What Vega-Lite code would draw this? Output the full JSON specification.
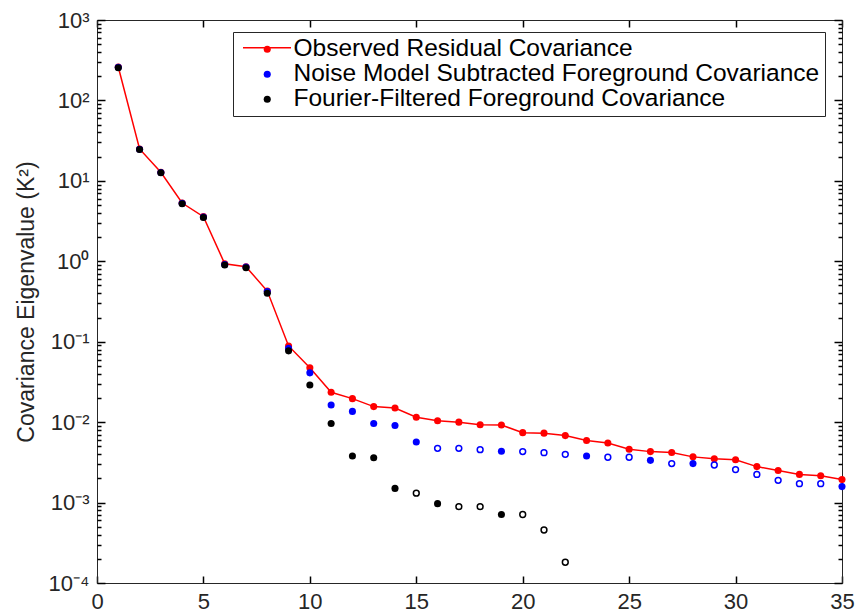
{
  "$schema": "https://vega.github.io/schema/vega-lite/v6.json",
  "width": 745,
  "height": 563,
  "autosize": {"type": "none"},
  "padding": {"left": 97, "top": 20, "right": 16, "bottom": 33},
  "background": "white",
  "config": {
    "font": "Liberation Sans",
    "view": {"stroke": "#262626", "strokeWidth": 1},
    "axis": {
      "domain": true,
      "domainColor": "#262626",
      "domainWidth": 1,
      "ticks": true,
      "tickColor": "#000000",
      "tickWidth": 1.5,
      "labelColor": "#262626",
      "titleColor": "#262626",
      "labelFontSize": 22,
      "titleFontSize": 23,
      "titleFontWeight": "normal",
      "grid": false,
      "labelFlush": false,
      "labelOverlap": false
    }
  },
  "data": {
    "values": [
      {"x": 1, "series": "Observed Residual Covariance", "value": 260, "sign": "pos"},
      {"x": 2, "series": "Observed Residual Covariance", "value": 24.9, "sign": "pos"},
      {"x": 3, "series": "Observed Residual Covariance", "value": 12.8, "sign": "pos"},
      {"x": 4, "series": "Observed Residual Covariance", "value": 5.3, "sign": "pos"},
      {"x": 5, "series": "Observed Residual Covariance", "value": 3.59, "sign": "pos"},
      {"x": 6, "series": "Observed Residual Covariance", "value": 0.933, "sign": "pos"},
      {"x": 7, "series": "Observed Residual Covariance", "value": 0.857, "sign": "pos"},
      {"x": 8, "series": "Observed Residual Covariance", "value": 0.426, "sign": "pos"},
      {"x": 9, "series": "Observed Residual Covariance", "value": 0.0886, "sign": "pos"},
      {"x": 10, "series": "Observed Residual Covariance", "value": 0.0475, "sign": "pos"},
      {"x": 11, "series": "Observed Residual Covariance", "value": 0.0235, "sign": "pos"},
      {"x": 12, "series": "Observed Residual Covariance", "value": 0.0196, "sign": "pos"},
      {"x": 13, "series": "Observed Residual Covariance", "value": 0.0156, "sign": "pos"},
      {"x": 14, "series": "Observed Residual Covariance", "value": 0.0150, "sign": "pos"},
      {"x": 15, "series": "Observed Residual Covariance", "value": 0.0115, "sign": "pos"},
      {"x": 16, "series": "Observed Residual Covariance", "value": 0.0104, "sign": "pos"},
      {"x": 17, "series": "Observed Residual Covariance", "value": 0.0100, "sign": "pos"},
      {"x": 18, "series": "Observed Residual Covariance", "value": 0.0093, "sign": "pos"},
      {"x": 19, "series": "Observed Residual Covariance", "value": 0.0092, "sign": "pos"},
      {"x": 20, "series": "Observed Residual Covariance", "value": 0.0074, "sign": "pos"},
      {"x": 21, "series": "Observed Residual Covariance", "value": 0.0073, "sign": "pos"},
      {"x": 22, "series": "Observed Residual Covariance", "value": 0.0068, "sign": "pos"},
      {"x": 23, "series": "Observed Residual Covariance", "value": 0.0059, "sign": "pos"},
      {"x": 24, "series": "Observed Residual Covariance", "value": 0.0055, "sign": "pos"},
      {"x": 25, "series": "Observed Residual Covariance", "value": 0.0046, "sign": "pos"},
      {"x": 26, "series": "Observed Residual Covariance", "value": 0.0043, "sign": "pos"},
      {"x": 27, "series": "Observed Residual Covariance", "value": 0.0042, "sign": "pos"},
      {"x": 28, "series": "Observed Residual Covariance", "value": 0.0037, "sign": "pos"},
      {"x": 29, "series": "Observed Residual Covariance", "value": 0.0035, "sign": "pos"},
      {"x": 30, "series": "Observed Residual Covariance", "value": 0.0034, "sign": "pos"},
      {"x": 31, "series": "Observed Residual Covariance", "value": 0.0028, "sign": "pos"},
      {"x": 32, "series": "Observed Residual Covariance", "value": 0.0025, "sign": "pos"},
      {"x": 33, "series": "Observed Residual Covariance", "value": 0.00224, "sign": "pos"},
      {"x": 34, "series": "Observed Residual Covariance", "value": 0.00216, "sign": "pos"},
      {"x": 35, "series": "Observed Residual Covariance", "value": 0.00193, "sign": "pos"},
      {"x": 1, "series": "Noise Model Subtracted Foreground Covariance", "value": 258, "sign": "pos"},
      {"x": 2, "series": "Noise Model Subtracted Foreground Covariance", "value": 24.7, "sign": "pos"},
      {"x": 3, "series": "Noise Model Subtracted Foreground Covariance", "value": 12.7, "sign": "pos"},
      {"x": 4, "series": "Noise Model Subtracted Foreground Covariance", "value": 5.25, "sign": "pos"},
      {"x": 5, "series": "Noise Model Subtracted Foreground Covariance", "value": 3.55, "sign": "pos"},
      {"x": 6, "series": "Noise Model Subtracted Foreground Covariance", "value": 0.91, "sign": "pos"},
      {"x": 7, "series": "Noise Model Subtracted Foreground Covariance", "value": 0.85, "sign": "pos"},
      {"x": 8, "series": "Noise Model Subtracted Foreground Covariance", "value": 0.42, "sign": "pos"},
      {"x": 9, "series": "Noise Model Subtracted Foreground Covariance", "value": 0.083, "sign": "pos"},
      {"x": 10, "series": "Noise Model Subtracted Foreground Covariance", "value": 0.041, "sign": "pos"},
      {"x": 11, "series": "Noise Model Subtracted Foreground Covariance", "value": 0.0163, "sign": "pos"},
      {"x": 12, "series": "Noise Model Subtracted Foreground Covariance", "value": 0.0136, "sign": "pos"},
      {"x": 13, "series": "Noise Model Subtracted Foreground Covariance", "value": 0.0096, "sign": "pos"},
      {"x": 14, "series": "Noise Model Subtracted Foreground Covariance", "value": 0.0091, "sign": "pos"},
      {"x": 15, "series": "Noise Model Subtracted Foreground Covariance", "value": 0.00566, "sign": "pos"},
      {"x": 16, "series": "Noise Model Subtracted Foreground Covariance", "value": 0.00473, "sign": "neg"},
      {"x": 17, "series": "Noise Model Subtracted Foreground Covariance", "value": 0.00473, "sign": "neg"},
      {"x": 18, "series": "Noise Model Subtracted Foreground Covariance", "value": 0.00455, "sign": "neg"},
      {"x": 19, "series": "Noise Model Subtracted Foreground Covariance", "value": 0.00434, "sign": "pos"},
      {"x": 20, "series": "Noise Model Subtracted Foreground Covariance", "value": 0.0043, "sign": "neg"},
      {"x": 21, "series": "Noise Model Subtracted Foreground Covariance", "value": 0.00417, "sign": "neg"},
      {"x": 22, "series": "Noise Model Subtracted Foreground Covariance", "value": 0.00398, "sign": "neg"},
      {"x": 23, "series": "Noise Model Subtracted Foreground Covariance", "value": 0.00379, "sign": "pos"},
      {"x": 24, "series": "Noise Model Subtracted Foreground Covariance", "value": 0.00366, "sign": "neg"},
      {"x": 25, "series": "Noise Model Subtracted Foreground Covariance", "value": 0.00366, "sign": "neg"},
      {"x": 26, "series": "Noise Model Subtracted Foreground Covariance", "value": 0.00335, "sign": "pos"},
      {"x": 27, "series": "Noise Model Subtracted Foreground Covariance", "value": 0.00305, "sign": "neg"},
      {"x": 28, "series": "Noise Model Subtracted Foreground Covariance", "value": 0.00305, "sign": "pos"},
      {"x": 29, "series": "Noise Model Subtracted Foreground Covariance", "value": 0.00293, "sign": "neg"},
      {"x": 30, "series": "Noise Model Subtracted Foreground Covariance", "value": 0.00257, "sign": "neg"},
      {"x": 31, "series": "Noise Model Subtracted Foreground Covariance", "value": 0.00224, "sign": "neg"},
      {"x": 32, "series": "Noise Model Subtracted Foreground Covariance", "value": 0.00189, "sign": "neg"},
      {"x": 33, "series": "Noise Model Subtracted Foreground Covariance", "value": 0.00172, "sign": "neg"},
      {"x": 34, "series": "Noise Model Subtracted Foreground Covariance", "value": 0.00172, "sign": "neg"},
      {"x": 35, "series": "Noise Model Subtracted Foreground Covariance", "value": 0.00158, "sign": "pos"},
      {"x": 1, "series": "Fourier-Filtered Foreground Covariance", "value": 255, "sign": "pos"},
      {"x": 2, "series": "Fourier-Filtered Foreground Covariance", "value": 24.5, "sign": "pos"},
      {"x": 3, "series": "Fourier-Filtered Foreground Covariance", "value": 12.6, "sign": "pos"},
      {"x": 4, "series": "Fourier-Filtered Foreground Covariance", "value": 5.2, "sign": "pos"},
      {"x": 5, "series": "Fourier-Filtered Foreground Covariance", "value": 3.5, "sign": "pos"},
      {"x": 6, "series": "Fourier-Filtered Foreground Covariance", "value": 0.9, "sign": "pos"},
      {"x": 7, "series": "Fourier-Filtered Foreground Covariance", "value": 0.83, "sign": "pos"},
      {"x": 8, "series": "Fourier-Filtered Foreground Covariance", "value": 0.40, "sign": "pos"},
      {"x": 9, "series": "Fourier-Filtered Foreground Covariance", "value": 0.077, "sign": "pos"},
      {"x": 10, "series": "Fourier-Filtered Foreground Covariance", "value": 0.029, "sign": "pos"},
      {"x": 11, "series": "Fourier-Filtered Foreground Covariance", "value": 0.0096, "sign": "pos"},
      {"x": 12, "series": "Fourier-Filtered Foreground Covariance", "value": 0.0038, "sign": "pos"},
      {"x": 13, "series": "Fourier-Filtered Foreground Covariance", "value": 0.0036, "sign": "pos"},
      {"x": 14, "series": "Fourier-Filtered Foreground Covariance", "value": 0.0015, "sign": "pos"},
      {"x": 15, "series": "Fourier-Filtered Foreground Covariance", "value": 0.00131, "sign": "neg"},
      {"x": 16, "series": "Fourier-Filtered Foreground Covariance", "value": 0.00097, "sign": "pos"},
      {"x": 17, "series": "Fourier-Filtered Foreground Covariance", "value": 0.00089, "sign": "neg"},
      {"x": 18, "series": "Fourier-Filtered Foreground Covariance", "value": 0.00089, "sign": "neg"},
      {"x": 19, "series": "Fourier-Filtered Foreground Covariance", "value": 0.00071, "sign": "pos"},
      {"x": 20, "series": "Fourier-Filtered Foreground Covariance", "value": 0.00071, "sign": "neg"},
      {"x": 21, "series": "Fourier-Filtered Foreground Covariance", "value": 0.000456, "sign": "neg"},
      {"x": 22, "series": "Fourier-Filtered Foreground Covariance", "value": 0.000181, "sign": "neg"}
    ]
  },
  "layer": [
    {
      "transform": [{"filter": "datum.series === 'Observed Residual Covariance'"}],
      "mark": {"type": "line", "strokeWidth": 1.5},
      "encoding": {
        "x": {
          "field": "x", "type": "quantitative",
          "scale": {"domain": [0, 35], "nice": false},
          "axis": {"orient": "bottom", "values": [0, 5, 10, 15, 20, 25, 30, 35], "tickSize": -7, "labelPadding": 15, "title": null}
        },
        "y": {
          "field": "value", "type": "quantitative",
          "scale": {"type": "log", "domain": [0.0001, 1000], "nice": false},
          "axis": {
            "orient": "left",
            "values": [0.0001, 0.001, 0.01, 0.1, 1, 10, 100, 1000],
            "tickSize": -8,
            "labelPadding": 16,
            "labelExpr": "datum.value >= 999 ? '10³' : datum.value >= 99 ? '10²' : datum.value >= 9 ? '10¹' : datum.value >= 0.9 ? '10⁰' : datum.value >= 0.09 ? '10⁻¹' : datum.value >= 0.009 ? '10⁻²' : datum.value >= 0.0009 ? '10⁻³' : '10⁻⁴'",
            "title": "Covariance Eigenvalue (K²)",
            "titlePadding": 10
          }
        },
        "stroke": {
          "field": "series", "type": "nominal",
          "scale": {"domain": ["Observed Residual Covariance"], "range": ["#ff0000"]},
          "legend": {
            "orient": "none", "legendX": 145, "legendY": 2.7, "title": null,
            "labelExpr": "''", "symbolType": "stroke", "symbolSize": 2304,
            "symbolStrokeWidth": 1.5, "padding": 0, "labelOffset": 0
          }
        },
        "order": {"field": "x"}
      }
    },
    {
      "transform": [{"filter": "datum.sign === 'pos'"}],
      "mark": {"type": "point", "filled": true, "size": 50, "opacity": 1},
      "encoding": {
        "x": {
          "field": "x", "type": "quantitative",
          "scale": {"domain": [0, 35], "nice": false},
          "axis": {"orient": "top", "values": [0, 5, 10, 15, 20, 25, 30, 35], "tickSize": -7, "labels": false, "title": null}
        },
        "y": {
          "field": "value", "type": "quantitative",
          "scale": {"type": "log", "domain": [0.0001, 1000], "nice": false},
          "axis": {"orient": "right", "values": [0.0001, 0.001, 0.01, 0.1, 1, 10, 100, 1000], "tickSize": -8, "labels": false, "title": null}
        },
        "color": {
          "field": "series", "type": "nominal",
          "scale": {
            "domain": ["Observed Residual Covariance", "Noise Model Subtracted Foreground Covariance", "Fourier-Filtered Foreground Covariance"],
            "range": ["#ff0000", "#0000ff", "#000000"]
          },
          "legend": {
            "orient": "none", "legendX": 136, "legendY": 12, "title": null,
            "symbolType": "circle", "symbolSize": 50, "symbolStrokeWidth": 0,
            "labelFontSize": 24.5, "labelColor": "#000000", "labelFont": "Liberation Sans",
            "strokeColor": "#262626", "padding": 5, "rowPadding": 0,
            "symbolOffset": 17, "labelOffset": 14, "labelLimit": 1000
          }
        }
      }
    },
    {
      "transform": [{"filter": "datum.sign === 'neg'"}],
      "mark": {"type": "point", "filled": false, "size": 34, "strokeWidth": 1.5, "opacity": 1},
      "encoding": {
        "x": {"field": "x", "type": "quantitative", "scale": {"domain": [0, 35], "nice": false}, "axis": null},
        "y": {
          "field": "value", "type": "quantitative",
          "scale": {"type": "log", "domain": [0.0001, 1000], "nice": false},
          "axis": {
            "orient": "left",
            "values": [0.0002, 0.0003, 0.0004, 0.0005, 0.0006, 0.0007, 0.0008, 0.0009, 0.002, 0.003, 0.004, 0.005, 0.006, 0.007, 0.008, 0.009, 0.02, 0.03, 0.04, 0.05, 0.06, 0.07, 0.08, 0.09, 0.2, 0.3, 0.4, 0.5, 0.6, 0.7, 0.8, 0.9, 2, 3, 4, 5, 6, 7, 8, 9, 20, 30, 40, 50, 60, 70, 80, 90, 200, 300, 400, 500, 600, 700, 800, 900],
            "tickSize": -4, "labels": false, "domain": false, "title": null
          }
        },
        "color": {"field": "series", "type": "nominal"}
      }
    },
    {
      "mark": {"type": "point", "opacity": 0},
      "encoding": {
        "x": {"field": "x", "type": "quantitative", "scale": {"domain": [0, 35], "nice": false}, "axis": null},
        "y": {
          "field": "value", "type": "quantitative",
          "scale": {"type": "log", "domain": [0.0001, 1000], "nice": false},
          "axis": {
            "orient": "right",
            "values": [0.0002, 0.0003, 0.0004, 0.0005, 0.0006, 0.0007, 0.0008, 0.0009, 0.002, 0.003, 0.004, 0.005, 0.006, 0.007, 0.008, 0.009, 0.02, 0.03, 0.04, 0.05, 0.06, 0.07, 0.08, 0.09, 0.2, 0.3, 0.4, 0.5, 0.6, 0.7, 0.8, 0.9, 2, 3, 4, 5, 6, 7, 8, 9, 20, 30, 40, 50, 60, 70, 80, 90, 200, 300, 400, 500, 600, 700, 800, 900],
            "tickSize": -4, "labels": false, "domain": false, "title": null
          }
        }
      }
    }
  ],
  "resolve": {
    "scale": {"x": "shared", "y": "shared", "color": "shared"},
    "axis": {"x": "independent", "y": "independent"}
  }
}
